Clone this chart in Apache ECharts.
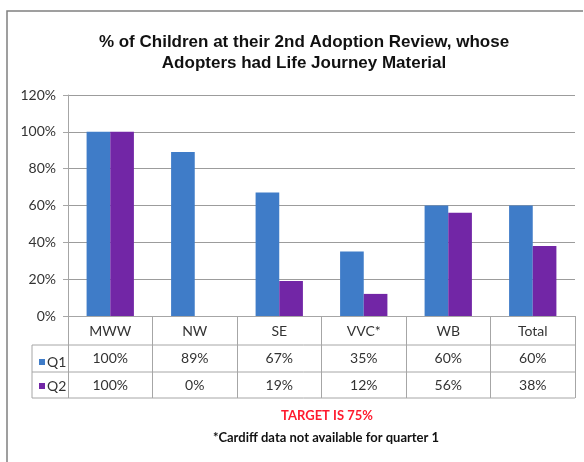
<!DOCTYPE html>
<html>
<head>
<meta charset="utf-8">
<script src="https://cdn.jsdelivr.net/npm/echarts@6/dist/echarts.min.js"></script>
<style>
  html, body { margin: 0; padding: 0; background: #fff; }
  #chart { width: 584px; height: 462px; }
</style>
</head>
<body>
<div id="chart"></div>
<script>
// regions along the bottom
const categories = ['MWW', 'NW', 'SE', 'VVC*', 'WB', 'Total']
// % of children, quarter 1 and quarter 2
const q1 = [100, 89, 67, 35, 60, 60]
const q2 = [100, 0, 19, 12, 56, 38]
const yTicks = [0, 20, 40, 60, 80, 100, 120]

const blue = '#3f7cc8'
const purple = '#7226a6'
const lineGray = '#a6a6a6'

let myChart = echarts.init(document.getElementById('chart'))

let option = {
  animation: false,
  backgroundColor: '#fff',
  textStyle: { fontFamily: 'Lato' },
  title: [
    {
      text: '% of Children at their 2nd Adoption Review, whose\nAdopters had Life Journey Material',
      left: 299,
      top: 27,
      textAlign: 'center',
      textStyle: {
        fontFamily: 'Liberation Sans',
        fontWeight: 'bold',
        fontSize: 17,
        lineHeight: 21,
        color: '#111'
      }
    },
    {
      text: 'TARGET IS 75%',
      left: 322,
      top: 404,
      textAlign: 'center',
      textStyle: { fontFamily: 'Lato', fontWeight: 'bold', fontSize: 13, color: '#ff1a2e' }
    },
    {
      text: '*Cardiff data not available for quarter 1',
      left: 321,
      top: 426,
      textAlign: 'center',
      textStyle: { fontFamily: 'Lato', fontWeight: 'bold', fontSize: 13, color: '#111' }
    }
  ],
  legend: {
    orient: 'vertical',
    left: 34,
    top: 350,
    itemGap: 10,
    itemWidth: 6,
    itemHeight: 6,
    icon: 'rect',
    data: ['Q1', 'Q2'],
    textStyle: { fontFamily: 'Lato', fontSize: 14, color: '#333', padding: [0, 0, 0, -3] }
  },
  grid: {
    left: 68,
    right: 9,
    top: 95,
    bottom: 146
  },
  xAxis: {
    type: 'category',
    data: categories,
    axisLine: { lineStyle: { color: lineGray } },
    axisTick: { show: true, length: 82, lineStyle: { color: lineGray } },
    axisLabel: {
      margin: 1,
      interval: 0,
      formatter: (value, index) =>
        '{c|' + value + '}\n{v|' + q1[index] + '%}\n{v|' + q2[index] + '%}',
      rich: {
        c: { fontFamily: 'Lato', fontSize: 14, lineHeight: 28, color: '#333' },
        v: { fontFamily: 'Lato', fontSize: 14, lineHeight: 27, color: '#333' }
      }
    }
  },
  yAxis: {
    type: 'value',
    min: yTicks[0],
    max: yTicks[yTicks.length - 1],
    interval: 20,
    axisLine: { show: true, lineStyle: { color: lineGray } },
    axisTick: { show: true, length: 5, lineStyle: { color: lineGray } },
    axisLabel: {
      margin: 12,
      formatter: '{value}%',
      fontFamily: 'Lato',
      fontSize: 14,
      color: '#333'
    },
    splitLine: { lineStyle: { color: '#9c9c9c' } }
  },
  series: [
    {
      name: 'Q1',
      type: 'bar',
      data: q1,
      barGap: '0%',
      barCategoryGap: '44%',
      itemStyle: { color: blue }
    },
    {
      name: 'Q2',
      type: 'bar',
      data: q2,
      itemStyle: { color: purple }
    }
  ]
}

myChart.setOption(option)

// frame and data-table rules, placed from the axes
const step = myChart.convertToPixel({ xAxisIndex: 0 }, 1) - myChart.convertToPixel({ xAxisIndex: 0 }, 0)
const xEnd = myChart.convertToPixel({ xAxisIndex: 0 }, categories.length - 1) + step / 2
const y0 = myChart.convertToPixel({ yAxisIndex: 0 }, 0)
const rows = [y0 + 29, y0 + 56, y0 + 82]
const tableLeft = 32

let graphics = [
  {
    type: 'polyline',
    shape: { points: [[7, 470], [7, 11], [583, 11]] },
    style: { stroke: '#808080', lineWidth: 1.5, fill: null }
  },
  {
    type: 'line',
    shape: { x1: tableLeft, y1: rows[0], x2: tableLeft, y2: rows[2] },
    style: { stroke: lineGray, lineWidth: 1 }
  }
]
rows.forEach(y => {
  graphics.push({
    type: 'line',
    shape: { x1: tableLeft, y1: y, x2: xEnd, y2: y },
    style: { stroke: lineGray, lineWidth: 1 }
  })
})
myChart.setOption({ graphic: graphics })
</script>
</body>
</html>
